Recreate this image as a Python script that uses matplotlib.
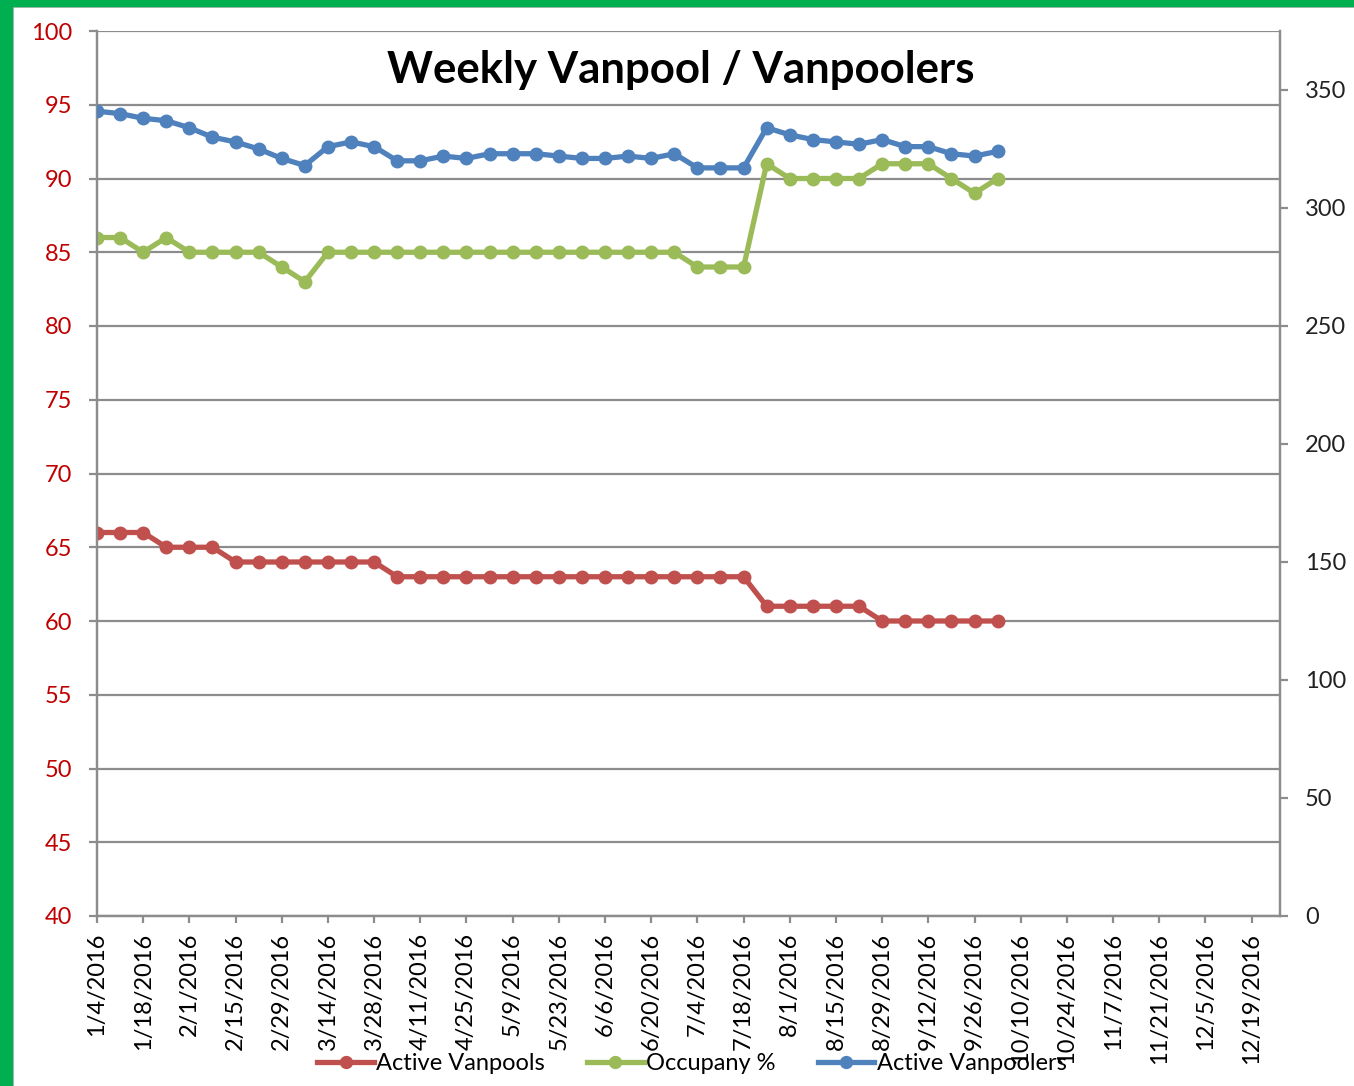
import matplotlib
matplotlib.use("Agg")
import matplotlib.pyplot as plt
import matplotlib.dates as mdates
from matplotlib.patches import Rectangle
from matplotlib.lines import Line2D
import pandas as pd
import numpy as np

plt.rcParams['font.family'] = ['Lato', 'DejaVu Sans']

# ---- data ----
start_date = "2016-01-04"
n_weeks = 40
active_vanpools = [66, 66, 66, 65, 65, 65, 64, 64, 64, 64,
                   64, 64, 64, 63, 63, 63, 63, 63, 63, 63,
                   63, 63, 63, 63, 63, 63, 63, 63, 63, 61,
                   61, 61, 61, 61, 60, 60, 60, 60, 60, 60]
occupancy_pct = [86, 86, 85, 86, 85, 85, 85, 85, 84, 83,
                 85, 85, 85, 85, 85, 85, 85, 85, 85, 85,
                 85, 85, 85, 85, 85, 85, 84, 84, 84, 91,
                 90, 90, 90, 90, 91, 91, 91, 90, 89, 90]
active_vanpoolers = [341, 340, 338, 337, 334, 330, 328, 325, 321, 318,
                     326, 328, 326, 320, 320, 322, 321, 323, 323, 323,
                     322, 321, 321, 322, 321, 323, 317, 317, 317, 334,
                     331, 329, 328, 327, 329, 326, 326, 323, 322, 324]
series_names = ["Active Vanpools", "Occupany %", "Active Vanpoolers"]
title = "Weekly Vanpool / Vanpoolers"
left_ticks = [40, 45, 50, 55, 60, 65, 70, 75, 80, 85, 90, 95, 100]
right_ticks = [0, 50, 100, 150, 200, 250, 300, 350]

dates = pd.date_range(start_date, periods=n_weeks, freq="7D")
tick_dates = pd.date_range("2016-01-04", "2016-12-19", freq="14D")
tick_labels = [f"{d.month}/{d.day}/{d.year}" for d in tick_dates]

c_red = "#C0504D"
c_green = "#9BBB59"
c_blue = "#4F81BD"
c_grid = "#8C8C8C"

W, H = 1354, 1086
fig = plt.figure(figsize=(W / 100, H / 100), dpi=100)
fig.patch.set_facecolor("white")

ax = fig.add_axes([97 / W, 1 - 916 / H, (1280 - 97) / W, (916 - 31) / H])
ax2 = ax.twinx()

lw = 3.8
ms = 9.0
ax.plot(dates, active_vanpools, color=c_red, lw=lw, marker="o", ms=ms, zorder=3)
ax.plot(dates, occupancy_pct, color=c_green, lw=lw, marker="o", ms=ms, zorder=3)
ax2.plot(dates, active_vanpoolers, color=c_blue, lw=lw, marker="o", ms=ms, zorder=3)

x0 = mdates.date2num(pd.Timestamp("2016-01-04"))
ax.set_xlim(x0, x0 + 358.6)
ax.set_ylim(40, 100)
ax2.set_ylim(0, 375)

ax.set_yticks(left_ticks)
ax.set_yticklabels([str(v) for v in left_ticks])
ax2.set_yticks(right_ticks)
ax2.set_yticklabels([str(v) for v in right_ticks])
ax.set_xticks(mdates.date2num(tick_dates))
ax.set_xticklabels(tick_labels, rotation=90)

ax.grid(axis="y", color=c_grid, lw=1.6)
ax.set_axisbelow(True)

for a in (ax, ax2):
    for s in a.spines.values():
        s.set_color(c_grid)
        s.set_linewidth(1.6)
    a.spines["top"].set_visible(False)

fs = 17
ax.tick_params(axis="y", colors=c_grid, labelcolor="#C00000", labelsize=fs,
               length=6, width=1.6, pad=12)
ax.tick_params(axis="x", colors=c_grid, labelcolor="black", labelsize=fs,
               length=5, width=1.6, pad=7)
ax2.tick_params(axis="y", colors=c_grid, labelcolor="#222222", labelsize=fs,
                length=6, width=1.6, pad=12)

fig.text(0.503, 1 - 70 / H, title, ha="center", va="center",
         fontsize=31.5, fontweight="bold", color="black")

handles = [Line2D([], [], color=c, lw=lw, marker="o", ms=ms)
           for c in (c_red, c_green, c_blue)]
fig.legend(handles, series_names, loc="center", bbox_to_anchor=(0.511, 1 - 1064 / H),
           ncol=3, frameon=False, fontsize=fs, handlelength=2.4,
           handletextpad=0.1, columnspacing=1.78, markerscale=0.95)

# green frame on left and top edge
fig.patches.append(Rectangle((0, 0), 12 / W, 1, transform=fig.transFigure,
                             color="#00B050", zorder=10))
fig.patches.append(Rectangle((0, 1 - 6 / H), 1, 6 / H, transform=fig.transFigure,
                             color="#00B050", zorder=10))
fig.add_artist(Line2D([13 / W, 13 / W], [0, 1 - 7 / H], transform=fig.transFigure,
                      color="#B0B0B0", lw=1.2))
fig.add_artist(Line2D([13 / W, 1], [1 - 7 / H, 1 - 7 / H], transform=fig.transFigure,
                      color="#B0B0B0", lw=1.2))

fig.savefig("out.png", dpi=100)
